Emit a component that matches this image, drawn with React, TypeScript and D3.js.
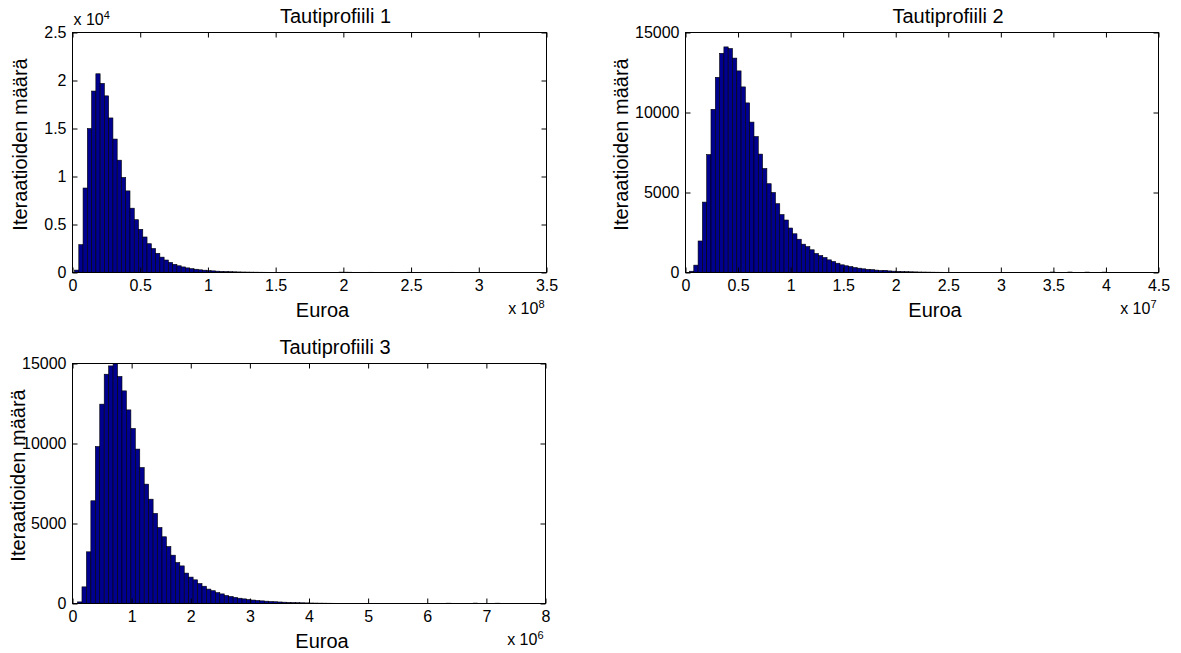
import React, { useEffect, useRef } from "react";
import { select, scaleLinear, axisBottom, axisTop, axisLeft, axisRight } from "d3";

const FONT = "'Liberation Sans', Arial, Helvetica, sans-serif";
const BAR_FILL = "#00008f";

// iteration counts per histogram bin (100 bins each)
const counts1 = [
  250, 2900, 8800, 15000, 18900, 20700, 19700, 18400, 16100, 13900,
  11700, 9900, 8500, 6700, 5500, 4500, 3700, 3000, 2500, 2000,
  1600, 1300, 1050, 850, 700, 580, 480, 400, 340, 280,
  240, 200, 170, 140, 120, 100, 85, 72, 60, 52,
  45, 38, 33, 28, 24, 21, 18, 15, 13, 11,
  10, 9, 8, 7, 6, 5, 5, 4, 4, 3,
  3, 3, 40, 35, 30, 2, 2, 1, 2, 25,
  1, 1, 2, 1, 1, 1, 1, 1, 30, 0,
  1, 1, 0, 1, 0, 1, 1, 0, 25, 0,
  0, 1, 0, 0, 20, 0, 0, 1, 0, 1,
];
const counts2 = [
  80, 460, 1970, 4400, 7370, 10200, 12200, 13700, 14100, 14000,
  13400, 12600, 11600, 10600, 9400, 8500, 7400, 6500, 5550, 5000,
  4300, 3620, 3280, 2780, 2420, 2080, 1770, 1620, 1420, 1190,
  1060, 940, 790, 690, 580, 480, 420, 370, 310, 270,
  230, 200, 180, 150, 125, 135, 100, 85, 72, 62,
  52, 45, 38, 32, 28, 24, 20, 17, 15, 12,
  10, 9, 8, 7, 6, 5, 5, 4, 4, 3,
  3, 3, 2, 2, 2, 2, 1, 1, 1, 1,
  1, 1, 1, 1, 30, 1, 0, 1, 30, 1,
  0, 1, 25, 0, 1, 0, 25, 1, 0, 1,
];
const counts3 = [
  100, 1040, 3230, 6420, 9810, 12460, 14330, 14850, 14980, 14190,
  13290, 12100, 10940, 9650, 8500, 7460, 6520, 5630, 4750, 4170,
  3560, 3020, 2560, 2350, 1900, 1650, 1480, 1250, 1080, 900,
  800, 680, 600, 500, 440, 380, 330, 290, 250, 215,
  190, 165, 145, 125, 110, 95, 82, 70, 60, 52,
  45, 38, 32, 27, 23, 20, 17, 14, 12, 10,
  9, 8, 7, 6, 5, 5, 4, 4, 3, 3,
  3, 2, 2, 2, 2, 1, 1, 1, 1, 1,
  1, 1, 1, 20, 1, 1, 0, 1, 1, 25,
  0, 1, 0, 1, 20, 0, 0, 1, 0, 1,
];

// bin start / width in euros
const binStart1 = 1.5e6, binWidth1 = 3.15e6;
const binStart2 = 3.8e5, binWidth2 = 4.09e5;
const binStart3 = 8.5e4, binWidth3 = 7.52e4;

// tick labels (in the axis' exponent units)
const xTicks1 = [0, 0.5, 1, 1.5, 2, 2.5, 3, 3.5];
const xTicks2 = [0, 0.5, 1, 1.5, 2, 2.5, 3, 3.5, 4, 4.5];
const xTicks3 = [0, 1, 2, 3, 4, 5, 6, 7, 8];
const yTicks1 = [0, 0.5, 1, 1.5, 2, 2.5];
const yTicks23 = [0, 5000, 10000, 15000];

const titles = ["Tautiprofiili 1", "Tautiprofiili 2", "Tautiprofiili 3"];

function Histogram({ counts, binStart, binWidth, xTicks, xExp, yTicks, yExp, title, box, ylabelX }) {
  const axesRef = useRef(null);
  const xUnit = Math.pow(10, xExp);
  const yUnit = Math.pow(10, yExp);
  const x = scaleLinear()
    .domain([xTicks[0] * xUnit, xTicks[xTicks.length - 1] * xUnit])
    .range([box.left, box.right]);
  const y = scaleLinear()
    .domain([0, yTicks[yTicks.length - 1] * yUnit])
    .range([box.bottom, box.top]);

  useEffect(() => {
    const g = select(axesRef.current);
    g.selectAll("*").remove();
    const xv = xTicks.map((t) => t * xUnit);
    const yv = yTicks.map((t) => t * yUnit);
    const fmtX = (d) => String(Math.round((d / xUnit) * 10) / 10);
    const fmtY = (d) => String(Math.round((d / yUnit) * 10) / 10);

    g.append("g")
      .attr("transform", `translate(0,${box.bottom})`)
      .call(axisBottom(x).tickValues(xv).tickFormat(fmtX).tickSizeInner(-5).tickSizeOuter(0).tickPadding(7));
    g.append("g")
      .attr("transform", `translate(0,${box.top})`)
      .call(axisTop(x).tickValues(xv).tickFormat(() => "").tickSizeInner(-5).tickSizeOuter(0));
    g.append("g")
      .attr("transform", `translate(${box.left},0)`)
      .call(axisLeft(y).tickValues(yv).tickFormat(fmtY).tickSizeInner(-5).tickSizeOuter(0).tickPadding(6));
    g.append("g")
      .attr("transform", `translate(${box.right},0)`)
      .call(axisRight(y).tickValues(yv).tickFormat(() => "").tickSizeInner(-5).tickSizeOuter(0));

    g.selectAll(".domain").remove();
    g.selectAll(".tick line").attr("stroke", "#000").attr("stroke-width", 1);
    g.selectAll("text")
      .attr("font-family", FONT)
      .attr("font-size", 16)
      .attr("fill", "#000");
  }, [counts, xTicks, yTicks, box]);

  const cx = (box.left + box.right) / 2;
  const cy = (box.top + box.bottom) / 2;

  return (
    <g>
      {counts.map((c, i) => {
        const x0 = x(binStart + i * binWidth);
        const x1 = x(binStart + (i + 1) * binWidth);
        return (
          <rect
            key={i}
            x={x0}
            y={y(c)}
            width={x1 - x0}
            height={y(0) - y(c)}
            fill={BAR_FILL}
            stroke="#000"
            strokeWidth={0.6}
          />
        );
      })}
      <rect
        x={box.left}
        y={box.top}
        width={box.right - box.left}
        height={box.bottom - box.top}
        fill="none"
        stroke="#000"
        strokeWidth={1}
      />
      <g ref={axesRef} />
      <text x={cx + 26} y={box.top - 10} textAnchor="middle" fontFamily={FONT} fontSize={20}>
        {title}
      </text>
      <text x={cx + 13} y={box.bottom + 44} textAnchor="middle" fontFamily={FONT} fontSize={20}>
        Euroa
      </text>
      <text
        transform={`translate(${ylabelX},${cy - 8}) rotate(-90)`}
        textAnchor="middle"
        fontFamily={FONT}
        fontSize={20}
      >
        Iteraatioiden määrä
      </text>
      <text x={box.right - 2} y={box.bottom + 41} textAnchor="end" fontFamily={FONT} fontSize={16}>
        x 10<tspan dy={-6} fontSize={11}>{xExp}</tspan>
      </text>
      {yExp > 0 && (
        <text x={box.left + 1} y={box.top - 8} fontFamily={FONT} fontSize={16}>
          x 10<tspan dy={-6} fontSize={11}>{yExp}</tspan>
        </text>
      )}
    </g>
  );
}

const box1 = { left: 72.5, right: 546.5, top: 32.5, bottom: 272.5 };
const box2 = { left: 685.5, right: 1158.5, top: 32.5, bottom: 272.5 };
const box3 = { left: 72.5, right: 545.5, top: 363.5, bottom: 603.5 };

export default function App() {
  return (
    <svg
      width={1181}
      height={653}
      style={{ position: "absolute", left: 0, top: 0, background: "#fff" }}
    >
      <rect width={1181} height={653} fill="#fff" />
      <Histogram
        counts={counts1}
        binStart={binStart1}
        binWidth={binWidth1}
        xTicks={xTicks1}
        xExp={8}
        yTicks={yTicks1}
        yExp={4}
        title={titles[0]}
        box={box1}
        ylabelX={27}
      />
      <Histogram
        counts={counts2}
        binStart={binStart2}
        binWidth={binWidth2}
        xTicks={xTicks2}
        xExp={7}
        yTicks={yTicks23}
        yExp={0}
        title={titles[1]}
        box={box2}
        ylabelX={628}
      />
      <Histogram
        counts={counts3}
        binStart={binStart3}
        binWidth={binWidth3}
        xTicks={xTicks3}
        xExp={6}
        yTicks={yTicks23}
        yExp={0}
        title={titles[2]}
        box={box3}
        ylabelX={25}
      />
    </svg>
  );
}
